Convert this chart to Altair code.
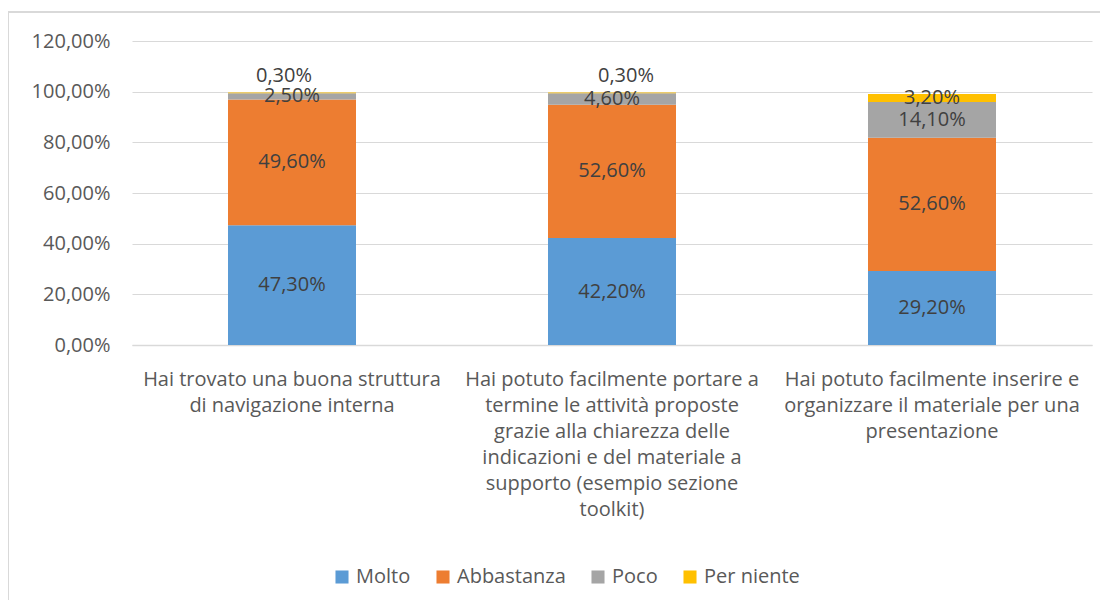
import altair as alt
import pandas as pd

categories = [
    "Hai trovato una buona struttura|di navigazione interna",
    "Hai potuto facilmente portare a|termine le attività proposte|grazie alla chiarezza delle|indicazioni e del materiale a|supporto (esempio sezione|toolkit)",
    "Hai potuto facilmente inserire e|organizzare il materiale per una|presentazione",
]
series = ["Molto", "Abbastanza", "Poco", "Per niente"]
colors = ["#5B9BD5", "#ED7D31", "#A5A5A5", "#FFC000"]
molto = [0.473, 0.422, 0.292]
abbastanza = [0.496, 0.526, 0.526]
poco = [0.025, 0.046, 0.141]
per_niente = [0.003, 0.003, 0.032]

values = [molto, abbastanza, poco, per_niente]
rows = []
for ci, cat in enumerate(categories):
    base = 0.0
    for si, s in enumerate(series):
        v = values[si][ci]
        rows.append({
            "cat": cat, "ci": ci, "serie": s, "order": si, "v": v,
            "y0": base, "y1": base + v, "mid": base + v / 2,
            "lab": f"{v*100:.2f}%".replace(".", ","),
            "small": v < 0.01,
        })
        base += v
df = pd.DataFrame(rows)

FONT = "Open Sans"
FS = 20
x = alt.X("cat:N", sort=categories, title=None,
          scale=alt.Scale(paddingInner=0.6, paddingOuter=0.3),
          axis=alt.Axis(labelExpr="split(datum.label, '|')", labelAngle=0,
                        labelFontSize=FS, labelColor="#595959", labelFont=FONT,
                        labelLineHeight=26, labelPadding=24, ticks=False,
                        domainColor="#D9D9D9", domainWidth=1.5, labelLimit=400))
y_axis = alt.Axis(values=[0, 0.2, 0.4, 0.6, 0.8, 1.0, 1.2],
                  labelExpr="replace(format(datum.value, '.2%'), '.', ',')",
                  labelFontSize=FS, labelColor="#595959", labelFont=FONT,
                  labelPadding=22, ticks=False, domain=False,
                  gridColor="#D9D9D9", gridWidth=1.2, title=None)

bars = alt.Chart(df).mark_bar().encode(
    x=x,
    y=alt.Y("y0:Q", scale=alt.Scale(domain=[0, 1.2]), axis=y_axis),
    y2="y1:Q",
    color=alt.Color("serie:N", sort=series,
                    scale=alt.Scale(domain=series, range=colors),
                    legend=alt.Legend(title=None, orient="none", direction="horizontal",
                                      legendX=200, legendY=526,
                                      symbolType="square", symbolSize=170,
                                      symbolStrokeWidth=0, labelFontSize=FS,
                                      labelColor="#595959", labelFont=FONT,
                                      columnPadding=22, symbolOffset=0)),
)

txt = alt.Chart(df).transform_filter("!datum.small").mark_text(
    fontSize=FS, color="#404040", font=FONT
).encode(x=alt.X("cat:N", sort=categories), y="mid:Q", text="lab:N")

txt_small_a = alt.Chart(df).transform_filter("datum.small && datum.ci == 0").mark_text(
    fontSize=FS, color="#404040", font=FONT, dy=-17, dx=-8
).encode(x=alt.X("cat:N", sort=categories), y="mid:Q", text="lab:N")

txt_small_b = alt.Chart(df).transform_filter("datum.small && datum.ci == 1").mark_text(
    fontSize=FS, color="#404040", font=FONT, dy=-17, dx=14
).encode(x=alt.X("cat:N", sort=categories), y="mid:Q", text="lab:N")

border_left = alt.Chart(df).mark_rule(color="#D9D9D9", strokeWidth=1.5).encode(
    x=alt.value(-124), y=alt.value(-29), y2=alt.value(700))
border_top = alt.Chart(df).mark_rule(color="#D9D9D9", strokeWidth=1.5).encode(
    x=alt.value(-124), x2=alt.value(1100), y=alt.value(-29))

chart = alt.layer(bars, txt, txt_small_a, txt_small_b, border_left, border_top).properties(
    width=960, height=304,
    autosize=alt.AutoSizeParams(type="none"),
    padding={"left": 124, "top": 33, "right": 8, "bottom": 255},
).configure_view(stroke=None)

chart.save("out.html", embed_options={"renderer": "svg", "actions": False})
